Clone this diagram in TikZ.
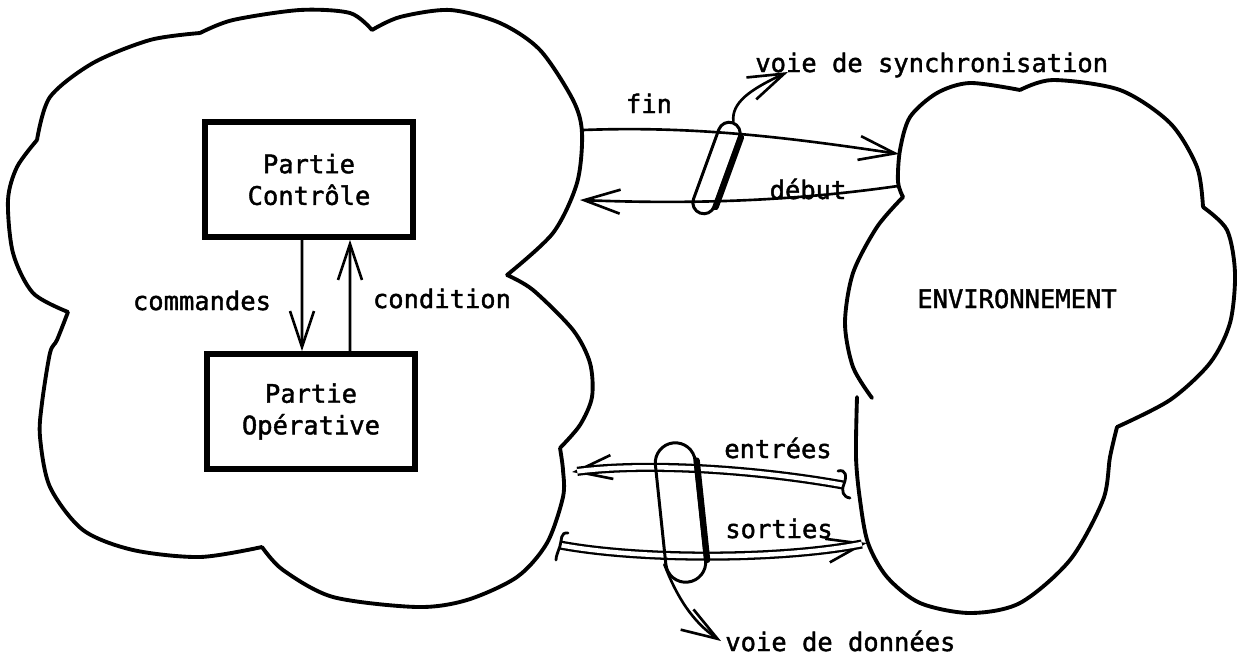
\documentclass[tikz,border=0pt]{standalone}
\usepackage{fontspec}
\newfontfamily\typefont{DejaVu Sans Mono}[FakeBold=1.6]
\usetikzlibrary{arrows.meta, bending, shapes.misc}

\begin{document}
\begin{tikzpicture}[
    x=0.02cm, y=-0.02cm,
    cloud/.style={line width=2.2pt, line join=round, line cap=round},
    box/.style={draw=black, line width=3.2pt, minimum width=4.16cm, minimum height=2.3cm,
        align=center, inner sep=0pt, font=\typefont\fontsize{14.5}{18}\selectfont},
    lbl/.style={font=\typefont\fontsize{14.5}{18}\selectfont, inner sep=0pt},
    arrow/.style={-{Straight Barb[length=0.72cm, width=0.48cm]}, line width=1.5pt, line cap=round},
    dbl/.style={double=white, double distance=2.6pt, line width=1.3pt},
    pill/.style={rounded rectangle, draw=black, line width=1.7pt, inner sep=0pt},
    pillside/.style={line width=3.6pt, line cap=round},
    tail/.style={line width=1.6pt, line cap=round}
]
    \useasboundingbox (0,0) rectangle (1241,660);

    % --- Left cloud (system) ---
    \draw[cloud]
        plot[smooth] coordinates {(37,140) (50,97) (93,63) (150,40) (200,33)}
        plot[smooth] coordinates {(200,33) (233,20) (300,10) (350,13) (372,30)}
        plot[smooth] coordinates {(372,30) (400,17) (450,10) (500,23) (540,50) (573,100)
            (582,133) (577,183) (553,233) (507,275)}
        plot[smooth] coordinates {(507,275) (533,290) (573,330) (590,363) (592,397) (580,425) (560,448)}
        plot[smooth] coordinates {(560,448) (563,470) (563,497) (547,543) (517,577) (467,600)
            (417,607) (333,597) (283,570) (262,547)}
        plot[smooth] coordinates {(262,547) (200,557) (133,550) (83,530) (50,487) (40,437)
            (42,403) (50,353) (57,340) (68,312)}
        plot[smooth] coordinates {(68,312) (33,293) (13,253) (8,200) (17,167) (37,140)};

    % --- Right cloud (environment) ---
    \draw[cloud]
        plot[smooth] coordinates {(903,197) (898,182) (900,150) (910,117) (937,93) (970,83) (1020,90)}
        plot[smooth] coordinates {(1020,90) (1053,80) (1120,90) (1170,123) (1197,167) (1203,207)}
        plot[smooth] coordinates {(1203,207) (1227,230) (1235,273) (1230,323) (1210,363) (1170,400) (1117,427)}
        plot[smooth] coordinates {(1117,427) (1110,457) (1103,500) (1070,560) (1020,603) (970,613)
            (920,603) (887,577) (868,543) (860,500) (856,457) (857,397)};
    \draw[cloud] plot[smooth] coordinates {(903,197) (877,227) (853,273) (845,323) (853,367) (872,398)};

    % --- Boxes ---
    \node[box] (ctrl) at (309,179.5) {Partie\\Contrôle};
    \node[box] (oper) at (311,411.5) {Partie\\Opérative};

    \draw[arrow] ([xshift=-0.14cm]ctrl.south) -- ([xshift=-0.18cm]oper.north);
    \draw[arrow] ([xshift=0.78cm]oper.north) -- ([xshift=0.82cm]ctrl.south);

    % --- Labels ---
    \node[lbl, anchor=base] (cmdlbl) at (202,310) {commandes};
    \node[lbl, anchor=base] (condlbl) at (442,308) {condition};
    \node[lbl, anchor=base] (finlbl) at (649,113) {fin};
    \node[lbl, anchor=base] (deblbl) at (808,199) {début};
    \node[lbl, anchor=base west] (synclbl) at (755,72) {voie de synchronisation};
    \node[lbl, anchor=base] (envlbl) at (1017,308) {ENVIRONNEMENT};
    \node[lbl, anchor=base] (entlbl) at (778,458) {entrées};
    \node[lbl, anchor=base] (sorlbl) at (779,538) {sorties};
    \node[lbl, anchor=base west] (datalbl) at (725,651) {voie de données};

    % --- Synchronisation path ---
    \coordinate (finS) at (583,130);
    \coordinate (finE) at (899,154);
    \coordinate (debS) at (898,186);
    \coordinate (debE) at (580,200);
    \coordinate (syncE) at (788,72);

    \draw[arrow] (finS) .. controls (690,126) and (780,136) .. (finE);
    \draw[arrow] (debS) .. controls (800,200) and (700,205) .. (debE);

    \node[pill, minimum width=1.92cm, minimum height=0.44cm, rotate=70] (syncpill) at (716.5,168) {};
    \draw[pillside] (syncpill.south west) -- (syncpill.south east);
    \draw[arrow] (syncpill.east) .. controls (731,102) and (752,88) .. (syncE);

    % --- Data path ---
    \coordinate (entS) at (843,485);
    \coordinate (entE) at (572,472);
    \coordinate (sorS) at (560,545);
    \coordinate (sorE) at (867,543);
    \coordinate (dataE) at (721,641);

    \draw[arrow] (entS) .. controls (760,470) and (650,462) .. (entE);
    \draw[dbl, shorten >=3pt] (entS) .. controls (760,470) and (650,462) .. (entE);
    \draw[tail] (838,471) .. controls (846,469) and (847,476) .. (844,484)
        .. controls (841,491) and (843,497) .. (850,498);

    \draw[arrow] (sorS) .. controls (640,560) and (780,560) .. (sorE);
    \draw[dbl, shorten >=3pt] (sorS) .. controls (640,560) and (780,560) .. (sorE);
    \draw[tail] (568,533) .. controls (560,532) and (562,540) .. (560,546)
        .. controls (558,552) and (556,556) .. (556,560);

    \node[pill, minimum width=2.8cm, minimum height=0.8cm, rotate=-84] (datapill) at (680.5,512.5) {};
    \draw[pillside] (datapill.north west) -- (datapill.north east);
    \draw[arrow] (datapill.south east) .. controls (678,600) and (695,625) .. (dataE);

\end{tikzpicture}
\end{document}
